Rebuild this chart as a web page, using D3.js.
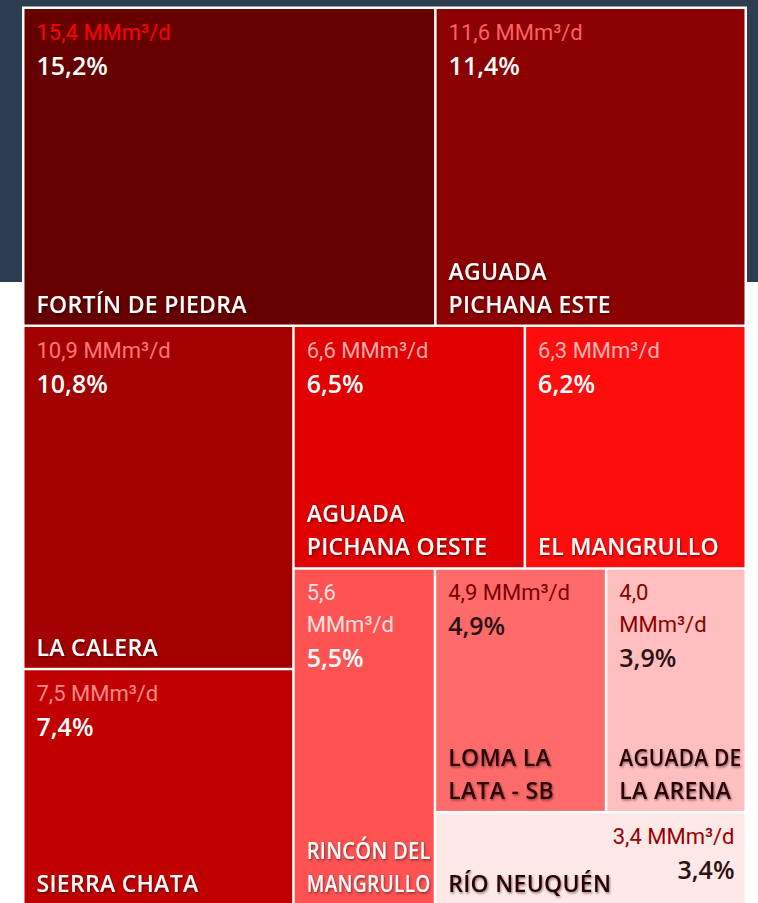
<!DOCTYPE html>
<html>
<head>
<meta charset="utf-8">
<script src="https://cdn.jsdelivr.net/npm/d3@7"></script>
<style>
  body { margin: 0; background: #fff; }
  svg { display: block; font-family: "Open Sans", "Noto Sans", sans-serif; }
</style>
</head>
<body>
<div id="chart"></div>
<script>
// yacimientos (gas) - produccion diaria y participacion
const fields = ["FORTÍN DE PIEDRA", "AGUADA PICHANA ESTE", "LA CALERA", "SIERRA CHATA",
  "AGUADA PICHANA OESTE", "EL MANGRULLO", "RINCÓN DEL MANGRULLO", "LOMA LA LATA - SB",
  "AGUADA DE LA ARENA", "RÍO NEUQUÉN"];
const fieldLines = [["FORTÍN DE PIEDRA"], ["AGUADA", "PICHANA ESTE"], ["LA CALERA"], ["SIERRA CHATA"],
  ["AGUADA", "PICHANA OESTE"], ["EL MANGRULLO"], ["RINCÓN DEL", "MANGRULLO"], ["LOMA LA", "LATA - SB"],
  ["AGUADA DE", "LA ARENA"], ["RÍO NEUQUÉN"]];
const production = [15.4, 11.6, 10.9, 7.5, 6.6, 6.3, 5.6, 4.9, 4.0, 3.4]; // MMm3/d
const share = [15.2, 11.4, 10.8, 7.4, 6.5, 6.2, 5.5, 4.9, 3.9, 3.4]; // %
const stripSizes = [2, 2, 2, 1, 2, 1]; // tiles per strip, as the original lays them out

const width = 758;
const height = 903;
const fmt = v => v.toFixed(1).replace(".", ",");

const tileColor = d3.scaleOrdinal()
    .domain(fields)
    .range(["#660000", "#8b0000", "#a30000", "#c00000", "#e00000", "#ff0d0d",
            "#ff5252", "#ff6b6b", "#ffbfbf", "#ffe8e8"]);
const valueColor = d3.scaleOrdinal()
    .domain(fields)
    .range(["#ff0000", "#ff6060", "#ff7878", "#ff8888", "#ffaaaa", "#ffb4b4",
            "#ffe0e0", "#7a0000", "#8b0000", "#990000"]);

// squarify-like tiling with fixed strip breaks
function stripTile(parent, x0, y0, x1, y1) {
    const nodes = parent.children;
    let value = parent.value;
    let i = 0;
    stripSizes.forEach(k => {
        const kids = nodes.slice(i, i + k);
        const row = {children: kids, value: d3.sum(kids, d => d.value)};
        const dx = x1 - x0, dy = y1 - y0;
        if (dx < dy) {
            const yy = y0 + dy * row.value / value;
            d3.treemapDice(row, x0, y0, x1, yy);
            y0 = yy;
        } else {
            const xx = x0 + dx * row.value / value;
            d3.treemapSlice(row, x0, y0, xx, y1);
            x0 = xx;
        }
        value -= row.value;
        i += k;
    });
}

const data = fields.map((f, i) => ({name: f, lines: fieldLines[i], value: production[i], share: share[i]}));
const root = d3.hierarchy({children: data}).sum(d => d.value || 0);

d3.treemap()
    .tile(stripTile)
    .size([725, 900])
    .paddingOuter(2.5)
    .paddingInner(2.5)(root);

const svg = d3.select("#chart")
    .append("svg")
    .attr("width", width)
    .attr("height", height);

const defs = svg.append("defs");
defs.append("filter").attr("id", "shadow")
    .attr("x", "-10%").attr("y", "-30%").attr("width", "130%").attr("height", "170%")
    .append("feDropShadow")
    .attr("dx", 1).attr("dy", 1.5).attr("stdDeviation", 1)
    .attr("flood-color", "#000").attr("flood-opacity", 0.45);

svg.append("rect")
    .attr("width", width).attr("height", 282)
    .attr("fill", "#2c3e50");

const chart = svg.append("g").attr("transform", "translate(22,6.5)");

chart.append("rect")
    .attr("width", 725).attr("height", 905)
    .attr("fill", "#fff");

const tiles = chart.selectAll("g.tile")
    .data(root.leaves())
    .enter()
    .append("g")
    .attr("class", "tile")
    .attr("transform", d => `translate(${d.x0},${d.y0})`);

tiles.append("rect")
    .attr("width", d => d.x1 - d.x0)
    .attr("height", d => d.y1 - d.y0)
    .attr("fill", d => tileColor(d.data.name));

const isLight = d => d3.lab(tileColor(d.data.name)).l > 62;
const pad = 12;

tiles.each(function(d) {
    const g = d3.select(this);
    const w = d.x1 - d.x0, h = d.y1 - d.y0;
    const rightAlign = w / h > 2.5;
    const tx = rightAlign ? w - 10 : pad;
    const anchor = rightAlign ? "end" : "start";

    // value label, wrapped on words if it does not fit
    const val = g.append("text")
        .attr("text-anchor", anchor)
        .attr("font-family", "Roboto, sans-serif")
        .attr("font-size", 22)
        .attr("font-weight", 400)
        .attr("fill", valueColor(d.data.name));
    const words = (fmt(d.data.value) + " MMm³/d").split(" ");
    let lines = [words.join(" ")];
    val.text(lines[0]);
    if (val.node().getComputedTextLength() > w - 2 * pad) lines = words;
    val.text(null);
    lines.forEach((t, j) => {
        val.append("tspan").attr("x", tx).attr("y", 30.5 + j * 32).text(t);
    });

    g.append("text")
        .attr("x", tx)
        .attr("y", 30.5 + (lines.length - 1) * 32 + 35)
        .attr("text-anchor", anchor)
        .attr("font-size", 25)
        .attr("font-weight", 600)
        .attr("fill", isLight(d) ? "#2a1212" : "#fff")
        .text(fmt(d.data.share) + "%");

    const nl = d.data.lines;
    const name = g.append("text")
        .attr("font-size", 23)
        .attr("font-weight", 600)
        .attr("letter-spacing", 0.3)
        .attr("filter", "url(#shadow)")
        .attr("fill", isLight(d) ? "#2b0000" : "#fff");
    const room = w - pad - 3;
    nl.forEach((t, j) => {
        const ts = name.append("tspan")
            .attr("x", pad)
            .attr("y", h - 12 - (nl.length - 1 - j) * 33)
            .text(t);
        // squeeze names that would run past the tile
        if (ts.node().getComputedTextLength() > room) {
            ts.attr("textLength", room).attr("lengthAdjust", "spacingAndGlyphs");
        }
    });
});
</script>
</body>
</html>
